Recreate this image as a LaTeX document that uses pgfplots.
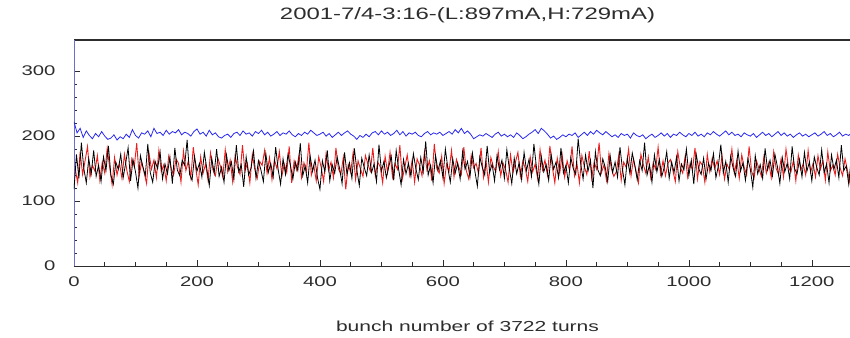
\documentclass[border=0pt]{standalone}
\usepackage{pgfplots}
\pgfplotsset{compat=1.18}
\usepackage{fontspec}
\newfontfamily\lab[FakeStretch=1.45]{Liberation Sans}
\definecolor{bl}{RGB}{40,40,240}
\definecolor{rd}{RGB}{235,30,30}
\definecolor{tx}{RGB}{45,45,45}
\definecolor{yax}{RGB}{110,110,210}
\begin{document}
\begin{tikzpicture}
\begin{axis}[
  name=ax,
  at={(74pt,71pt)}, anchor=south west,
  scale only axis, width=787pt, height=226pt,
  xmin=0, xmax=1280, ymin=0, ymax=348,
  axis x line=box, axis y line=left,
  axis line style={-},
  x axis line style={tx, line width=0.8pt},
  y axis line style={yax, line width=0.7pt},
  xtick={0,200,...,1200}, minor x tick num=3,
  ytick={0,100,200,300}, minor y tick num=4,
  xtick pos=left, ytick pos=left, tick align=inside,
  major tick length=6pt, minor tick length=3.5pt,
  tick style={tx, line width=0.6pt},
  /pgf/number format/assume math mode=true,
  /pgf/number format/1000 sep={},
  ticklabel style={font=\lab\fontsize{14}{14}\selectfont, text=tx},
  xticklabel style={yshift=-7pt},
  yticklabel style={xshift=-15pt},
  title={2001-7/4-3:16-(L:897mA,H:729mA)},
  title style={font=\lab\fontsize{16.5}{16.5}\selectfont, text=tx, at={(0.5,1)}, anchor=base, yshift=14pt},
  xlabel={bunch number of 3722 turns},
  xlabel style={font=\lab\fontsize{14.5}{14.5}\selectfont, text=tx, at={(axis description cs:0.5,0)}, anchor=base, yshift=-65pt},
  clip=true,
]
\addplot[bl, line width=0.8pt, no markers] table[row sep=\\, header=false, x expr=\coordindex*5, y index=0] {
222\\205\\212\\198\\208\\201\\196\\204\\199\\207\\200\\195\\197\\202\\194\\199\\196\\203\\198\\210\\
201\\197\\205\\203\\208\\199\\212\\204\\206\\201\\209\\203\\207\\205\\210\\202\\206\\204\\200\\207\\
211\\203\\206\\200\\209\\202\\205\\199\\197\\201\\203\\198\\204\\206\\201\\208\\203\\205\\200\\207\\
204\\209\\202\\206\\200\\203\\207\\201\\205\\203\\208\\202\\199\\204\\201\\206\\203\\209\\205\\201\\
203\\206\\200\\204\\198\\202\\206\\201\\205\\208\\203\\200\\195\\201\\198\\203\\199\\205\\207\\202\\
208\\203\\206\\201\\204\\209\\202\\207\\200\\205\\203\\206\\201\\199\\204\\207\\202\\205\\203\\206\\
201\\204\\207\\203\\210\\205\\212\\204\\208\\203\\196\\199\\202\\200\\204\\201\\198\\203\\206\\200\\
203\\199\\202\\198\\205\\201\\196\\199\\203\\206\\210\\204\\212\\208\\203\\197\\200\\195\\198\\202\\
199\\203\\201\\205\\198\\202\\206\\201\\207\\203\\209\\205\\202\\207\\203\\199\\202\\198\\204\\201\\
203\\197\\205\\201\\199\\202\\196\\200\\203\\198\\201\\205\\200\\204\\198\\203\\201\\206\\202\\199\\
204\\201\\206\\200\\203\\199\\205\\202\\207\\203\\200\\204\\208\\202\\206\\201\\203\\199\\205\\202\\
200\\204\\198\\202\\206\\201\\204\\199\\203\\207\\201\\205\\200\\203\\198\\202\\205\\200\\203\\199\\
202\\205\\200\\203\\207\\201\\204\\199\\202\\206\\200\\203\\201\\205\\198\\202\\204\\200\\203\\201\\
};
\addplot[rd, line width=0.9pt, no markers] table[row sep=\\, header=false, x expr=\coordindex*4+2, y index=0] {
150\\128\\176\\141\\162\\184\\137\\155\\146\\170\\132\\160\\143\\181\\152\\125\\167\\140\\158\\135\\
172\\147\\130\\165\\153\\189\\138\\160\\144\\127\\174\\149\\163\\136\\178\\145\\156\\131\\169\\151\\
140\\165\\158\\129\\177\\147\\162\\136\\183\\150\\125\\168\\143\\157\\132\\174\\148\\139\\166\\154\\
137\\179\\145\\163\\130\\170\\152\\141\\186\\146\\158\\128\\172\\149\\135\\161\\155\\178\\143\\167\\
133\\164\\150\\176\\138\\157\\144\\184\\128\\162\\148\\171\\136\\159\\145\\190\\140\\155\\131\\168\\
152\\130\\173\\147\\160\\136\\182\\150\\141\\167\\118\\156\\144\\175\\133\\162\\149\\138\\170\\157\\
146\\182\\139\\160\\153\\128\\169\\144\\175\\137\\158\\149\\186\\134\\152\\171\\140\\163\\129\\165\\
155\\139\\176\\148\\162\\131\\188\\150\\143\\169\\127\\157\\146\\178\\137\\164\\152\\141\\183\\147\\
134\\170\\151\\158\\142\\182\\137\\163\\129\\167\\153\\145\\176\\139\\158\\148\\129\\171\\144\\160\\
175\\138\\162\\150\\130\\168\\145\\157\\135\\179\\148\\163\\140\\185\\152\\128\\166\\143\\171\\137\\
162\\147\\184\\139\\158\\128\\170\\153\\141\\177\\135\\160\\149\\190\\144\\156\\132\\173\\150\\138\\
145\\171\\132\\160\\152\\180\\139\\165\\147\\128\\172\\156\\143\\168\\136\\159\\149\\183\\141\\162\\
139\\158\\164\\147\\130\\176\\152\\143\\169\\137\\158\\148\\182\\134\\161\\155\\129\\172\\145\\166\\
150\\162\\141\\170\\134\\157\\148\\180\\143\\163\\135\\171\\152\\140\\184\\146\\135\\162\\150\\138\\
168\\143\\159\\136\\176\\150\\141\\165\\137\\180\\152\\145\\162\\131\\171\\148\\157\\140\\178\\144\\
158\\137\\170\\149\\162\\132\\176\\146\\155\\140\\172\\151\\139\\165\\147\\128\\169\\153\\160\\143\\
};
\addplot[black, line width=0.8pt, no markers] table[row sep=\\, header=false, x expr=\coordindex*4, y index=0] {
118\\172\\135\\190\\150\\128\\165\\142\\178\\138\\155\\130\\168\\147\\185\\140\\126\\160\\149\\172\\
136\\158\\182\\131\\164\\145\\120\\170\\153\\139\\188\\144\\129\\161\\150\\176\\134\\157\\142\\168\\
127\\182\\148\\139\\163\\155\\194\\141\\132\\169\\146\\158\\137\\175\\150\\124\\166\\143\\180\\138\\
152\\129\\171\\147\\160\\133\\186\\145\\156\\122\\168\\140\\151\\177\\135\\162\\148\\130\\173\\144\\
158\\137\\183\\149\\126\\165\\141\\172\\155\\134\\160\\147\\189\\139\\154\\128\\170\\146\\163\\136\\
118\\162\\145\\178\\131\\156\\143\\168\\150\\127\\175\\141\\159\\135\\181\\148\\124\\166\\152\\139\\
171\\144\\157\\130\\187\\146\\161\\136\\153\\169\\132\\178\\149\\125\\164\\142\\158\\138\\173\\150\\
133\\167\\145\\192\\140\\155\\128\\170\\147\\162\\136\\180\\151\\129\\165\\143\\158\\134\\176\\149\\
161\\137\\174\\146\\123\\168\\152\\140\\185\\144\\157\\131\\170\\148\\163\\135\\179\\150\\127\\166\\
142\\159\\133\\175\\147\\164\\138\\188\\153\\126\\169\\145\\156\\132\\172\\149\\160\\136\\182\\143\\
155\\128\\167\\150\\141\\196\\158\\134\\171\\146\\163\\120\\176\\148\\139\\165\\152\\130\\170\\144\\
160\\137\\183\\149\\125\\166\\143\\174\\155\\133\\162\\147\\190\\140\\156\\129\\171\\145\\164\\138\\
152\\176\\135\\160\\144\\168\\131\\157\\148\\180\\139\\163\\126\\172\\150\\141\\166\\134\\158\\147\\
173\\136\\154\\187\\143\\161\\129\\169\\151\\138\\177\\146\\159\\132\\165\\149\\121\\170\\142\\156\\
135\\181\\148\\163\\139\\172\\153\\127\\167\\145\\158\\134\\184\\150\\142\\164\\137\\175\\146\\160\\
131\\168\\152\\140\\179\\144\\157\\128\\171\\149\\163\\136\\186\\147\\154\\126\\166\\143\\173\\138\\
};
\end{axis}
\draw[tx, line width=1pt] (74pt,297pt) -- (861pt,297pt);
\pgfresetboundingbox
\useasboundingbox (0,0) rectangle (850pt,337pt);
\end{tikzpicture}
\end{document}
